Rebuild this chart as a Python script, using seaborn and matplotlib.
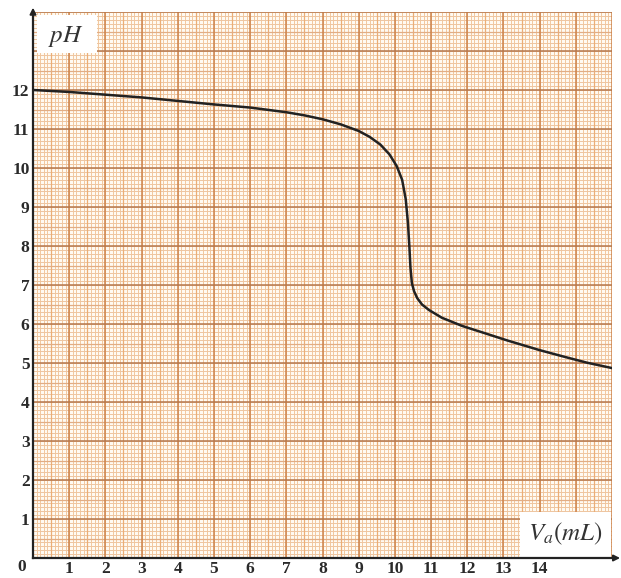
import numpy as np
import pandas as pd
import matplotlib
matplotlib.use("Agg")
import matplotlib.pyplot as plt
from matplotlib.patches import Rectangle
import seaborn as sns

# Titration curve: pH versus volume of added acid
volume_ml = [0, 1, 2, 3, 4, 5, 6, 7, 7.5, 8, 8.5, 9, 9.3, 9.6, 9.85, 10.05,
             10.2, 10.3, 10.36, 10.4, 10.43, 10.47, 10.53, 10.62, 10.75, 10.94,
             11.3, 11.86, 12.5, 13.1, 14, 14.64, 15.3, 16.0]
ph_values = [12.0, 11.95, 11.88, 11.81, 11.72, 11.63, 11.55, 11.43, 11.35,
             11.25, 11.12, 10.95, 10.8, 10.6, 10.35, 10.05, 9.7, 9.2, 8.6,
             8.0, 7.45, 7.05, 6.84, 6.66, 6.5, 6.36, 6.16, 5.95, 5.76, 5.58,
             5.33, 5.17, 5.01, 4.87]
x_ticks = list(range(1, 15))
x_tick_labels = [str(v) for v in x_ticks]
y_ticks = list(range(1, 13))
y_tick_labels = [str(v) for v in y_ticks]

df = pd.DataFrame({"V": volume_ml, "pH": ph_values})

sns.set_style("white")
plt.rcParams["font.family"] = ["Liberation Serif", "DejaVu Serif"]
plt.rcParams["mathtext.fontset"] = "stix"

fig = plt.figure(figsize=(6.21, 5.78), dpi=100)
ax = fig.add_axes([33 / 621, 20 / 578, 579 / 621, 546 / 578])
ax.set_facecolor("#fffaf2")
X_MAX, Y_MAX = 16, 14
ax.set_xlim(0, X_MAX)
ax.set_ylim(0, Y_MAX)

# graph-paper grid: fine, half-unit and unit lines
fine_x = np.arange(0, X_MAX + 0.001, 0.1)
fine_y = np.arange(0, Y_MAX + 0.001, 0.1)
ax.vlines(fine_x, 0, Y_MAX, colors="#f2c89e", linewidth=0.7, zorder=0.5)
ax.hlines(fine_y, 0, X_MAX, colors="#eec5a0", linewidth=0.7, zorder=0.5)
half_x = np.arange(0.5, X_MAX, 1.0)
half_y = np.arange(0.5, Y_MAX, 1.0)
ax.vlines(half_x, 0, Y_MAX, colors="#ebae76", linewidth=0.9, zorder=0.6)
ax.hlines(half_y, 0, X_MAX, colors="#e2ad84", linewidth=0.9, zorder=0.6)
unit_x = np.arange(1, X_MAX + 0.001, 1.0)
unit_y = np.arange(1, Y_MAX + 0.001, 1.0)
ax.vlines(unit_x, 0, Y_MAX, colors="#cd8249", linewidth=1.1, zorder=0.7)
ax.hlines(unit_y, 0, X_MAX, colors="#b5774c", linewidth=1.1, zorder=0.7)

sns.lineplot(data=df, x="V", y="pH", ax=ax, color="#222222", linewidth=1.8,
             zorder=3)

# labels in white patches
ax.add_patch(Rectangle((0.12, 12.95), 1.65, 0.98, facecolor="white",
                       edgecolor="none", zorder=4))
ax.text(0.92, 13.38, r"$pH$", fontsize=18, color="#333333", ha="center",
        va="center", zorder=5)
ax.add_patch(Rectangle((13.45, 0.03), 2.52, 1.15, facecolor="white",
                       edgecolor="none", zorder=4))
ax.text(14.7, 0.62, r"$V_a(mL)$", fontsize=18, color="#333333", ha="center",
        va="center", zorder=5)

ax.set_xticks(x_ticks)
ax.set_xticklabels(x_tick_labels)
ax.set_yticks(y_ticks)
ax.set_yticklabels(y_tick_labels)
ax.tick_params(axis="both", direction="out", length=2, width=1.2,
               color="#222222", labelsize=12.5, labelcolor="#2a2a2a", pad=0.5)
for lab in ax.get_xticklabels() + ax.get_yticklabels():
    lab.set_fontweight("bold")
ax.set_xlabel("")
ax.set_ylabel("")
ax.text(-0.3, -0.22, "0", fontsize=12.5, fontweight="bold", color="#2a2a2a",
        ha="center", va="center", clip_on=False)

for side in ["top", "right"]:
    ax.spines[side].set_visible(False)
for side in ["left", "bottom"]:
    ax.spines[side].set_color("#222222")
    ax.spines[side].set_linewidth(1.6)
    ax.spines[side].set_zorder(6)

# axis arrows
ax.annotate("", xy=(0, 1.008), xycoords="axes fraction", xytext=(0, 0.97),
            arrowprops=dict(arrowstyle="-|>", color="#222222", lw=1.4,
                            mutation_scale=9, shrinkA=0, shrinkB=0),
            annotation_clip=False)
ax.annotate("", xy=(1.014, 0), xycoords="axes fraction", xytext=(0.98, 0),
            arrowprops=dict(arrowstyle="-|>", color="#222222", lw=1.4,
                            mutation_scale=9, shrinkA=0, shrinkB=0),
            annotation_clip=False)
ax.set_xticks([], minor=True)
ax.set_yticks([], minor=True)

fig.savefig("out.png", dpi=100, facecolor="white")
